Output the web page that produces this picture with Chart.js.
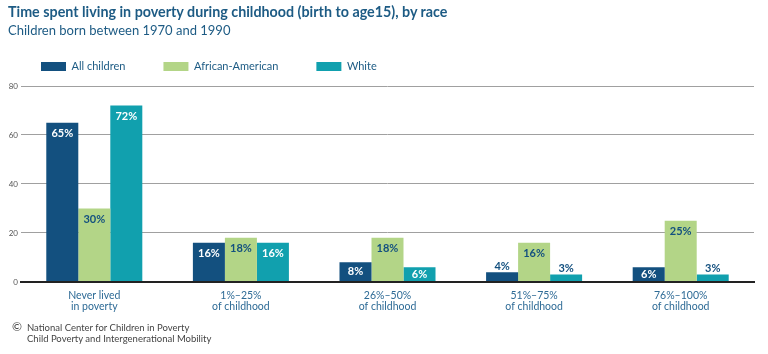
<!DOCTYPE html>
<html>
<head>
<meta charset="utf-8">
<script src="https://cdn.jsdelivr.net/npm/chart.js@4"></script>
<style>
  html, body { margin: 0; padding: 0; background: #fff; }
  #wrap { position: relative; width: 768px; height: 354px; overflow: hidden; font-family: Lato, "Noto Sans", sans-serif; }
  #chart { position: absolute; left: 0; top: 0; }
  .title { position: absolute; left: 8px; top: 3px; font-size: 14.3px; font-weight: bold; color: #1d5b84; white-space: nowrap; }
  .subtitle { position: absolute; left: 8px; top: 22px; font-size: 13px; color: #1d5b84; white-space: nowrap; }
  .source { position: absolute; left: 12px; top: 321px; font-size: 9.5px; line-height: 11px; color: #444; }
  .source span { display: inline-block; width: 15px; font-size: 12px; }
  .source div + div { padding-left: 15px; }
</style>
</head>
<body>
<div id="wrap">
  <canvas id="chart" width="768" height="354"></canvas>
  <div class="title">Time spent living in poverty during childhood (birth to age15), by race</div>
  <div class="subtitle">Children born between 1970 and 1990</div>
  <div class="source">
    <div><span>©</span>National Center for Children in Poverty</div>
    <div>Child Poverty and Intergenerational Mobility</div>
  </div>
</div>
<script>
// ── data ──
const categories = [
  ['Never lived', 'in poverty'],
  ['1%–25%', 'of childhood'],
  ['26%–50%', 'of childhood'],
  ['51%–75%', 'of childhood'],
  ['76%–100%', 'of childhood']
];
const allChildren = [65, 16, 8, 4, 6];
const africanAmerican = [30, 18, 18, 16, 25];
const white = [72, 16, 6, 3, 3];
const yTicks = [0, 20, 40, 60, 80];

const DARK = '#13507f', GREEN = '#b3d587', TEAL = '#11a0ae';

// value labels on top of the bars
const barLabels = {
  id: 'barLabels',
  afterDatasetsDraw(chart) {
    const ctx = chart.ctx;
    ctx.save();
    ctx.font = 'bold 11px Lato, "Noto Sans", sans-serif';
    ctx.textAlign = 'center';
    ctx.textBaseline = 'middle';
    chart.data.datasets.forEach((ds, di) => {
      chart.getDatasetMeta(di).data.forEach((bar, i) => {
        const v = ds.data[i];
        const h = bar.base - bar.y;
        let y, color;
        if (v < 5) {
          y = bar.y - 6;
          color = DARK;
        } else {
          y = bar.y + Math.min(10.5, h / 2);
          color = di === 1 ? DARK : '#fff';
        }
        ctx.fillStyle = color;
        ctx.fillText(v + '%', bar.x, y);
      });
    });
    ctx.restore();
  }
};

// a bit more room between the legend and the plot
const legendGap = {
  id: 'legendGap',
  beforeInit(chart) {
    const fit = chart.legend.fit;
    chart.legend.fit = function () {
      fit.bind(chart.legend)();
      this.height += 4;
    };
  }
};

new Chart(document.getElementById('chart').getContext('2d'), {
  type: 'bar',
  data: {
    labels: categories,
    datasets: [
      { label: 'All children', data: allChildren, backgroundColor: DARK },
      { label: 'African-American', data: africanAmerican, backgroundColor: GREEN },
      { label: 'White', data: white, backgroundColor: TEAL }
    ]
  },
  options: {
    responsive: false,
    animation: false,
    layout: { padding: { left: 3, right: 14, top: 23, bottom: 42 } },
    datasets: { bar: { barPercentage: 1, categoryPercentage: 0.655 } },
    plugins: {
      legend: {
        position: 'top', align: 'start',
        labels: { boxWidth: 25, boxHeight: 9, padding: 38, color: '#1d5b84', font: { size: 11, family: 'Lato, "Noto Sans", sans-serif' } }
      },
      tooltip: { enabled: false }
    },
    scales: {
      x: {
        grid: { display: false },
        border: { color: '#222', width: 2 },
        ticks: { color: '#2e6b96', padding: 0, font: { size: 10.5, lineHeight: 1.05, family: 'Lato, "Noto Sans", sans-serif' }, maxRotation: 0 }
      },
      y: {
        min: 0, max: 80,
        afterFit: (s) => { s.width = 18; },
        afterBuildTicks: (s) => { s.ticks = yTicks.map(v => ({ value: v })); },
        border: { display: false },
        grid: {
          drawTicks: false,
          color: (c) => c.tick && c.tick.value === 0 ? '#222' : '#a0a0a0',
          lineWidth: (c) => c.tick && c.tick.value === 0 ? 2 : 1
        },
        ticks: { color: '#555', padding: 3, font: { size: 8, family: 'Lato, "Noto Sans", sans-serif' } }
      }
    }
  },
  plugins: [barLabels, legendGap]
});
</script>
</body>
</html>
